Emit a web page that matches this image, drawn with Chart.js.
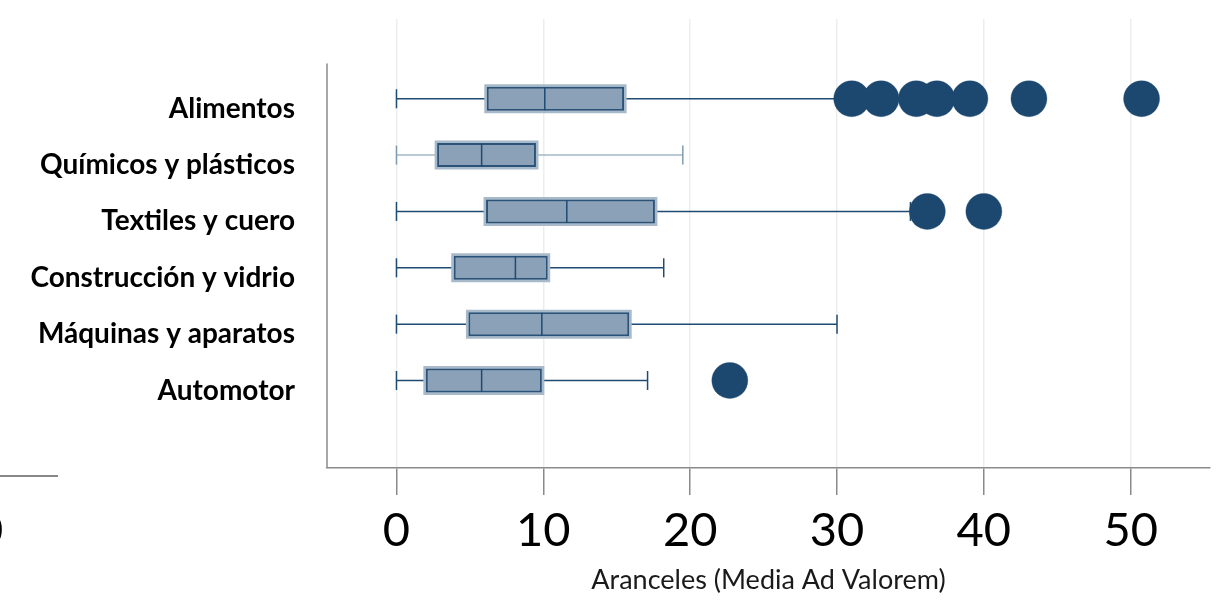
<!DOCTYPE html>
<html lang="es">

<head>
    <meta charset="UTF-8">
    <title>Aranceles por sector</title>
    <script src="https://cdn.jsdelivr.net/npm/chart.js"></script>
    <style>
        body { margin: 0; background: #fff; }
        #wrap { position: relative; width: 1230px; height: 605px; overflow: hidden; }
        #frag-line { position: absolute; left: 0; top: 475px; width: 58px; height: 1.5px; background: #888; }
        #frag-text { position: absolute; left: -24px; top: 500px; font: 47px Lato, sans-serif; color: #000; }
    </style>
</head>

<body>
    <div id="wrap">
        <canvas id="chart" width="1230" height="605"></canvas>
        <div id="frag-line"></div>
        <div id="frag-text">0</div>
    </div>
    <script>
        const categories = ['Alimentos', 'Químicos y plásticos', 'Textiles y cuero', 'Construcción y vidrio', 'Máquinas y aparatos', 'Automotor'];
        const whiskerLow = [0, 0, 0, 0, 0, 0];
        const q1 = [6.15, 2.77, 6.1, 3.9, 4.9, 2.0];
        const median = [10.1, 5.8, 11.6, 8.1, 9.9, 5.8];
        const q3 = [15.5, 9.5, 17.6, 10.3, 15.85, 9.9];
        const whiskerHigh = [30.0, 19.5, 35.0, 18.2, 30.0, 17.1];
        const outliers = [
            [31.0, 33.0, 35.4, 36.8, 39.05, 43.07, 50.74],
            [],
            [36.15, 40.0],
            [],
            [],
            [22.7]
        ];
        const xTicks = [0, 10, 20, 30, 40, 50];

        const dark = '#1f4a72';
        const lightWhisker = '#a3b8c6';

        // points built from the arrays above (y = category position 1..6)
        const whiskerPts = [];
        categories.forEach((c, i) => {
            whiskerPts.push({ x: whiskerLow[i], y: i + 1 }, { x: whiskerHigh[i], y: i + 1 }, { x: null, y: null });
        });
        const boxPts = categories.map((c, i) => ({ y: i + 1, x: [q1[i], q3[i]] }));
        const medianPts = categories.map((c, i) => ({ x: median[i], y: i + 1 }));
        const outlierPts = [];
        outliers.forEach((list, i) => list.forEach(v => outlierPts.push({ x: v, y: i + 1 })));

        const leftAxisLine = {
            id: 'leftAxisLine',
            afterDraw(chart) {
                const { ctx, chartArea, scales } = chart;
                ctx.save();
                ctx.strokeStyle = '#8a8a8a';
                ctx.lineWidth = 1.5;
                ctx.beginPath();
                ctx.moveTo(chartArea.left, scales.y.getPixelForValue(0.375));
                ctx.lineTo(chartArea.left, chartArea.bottom);
                ctx.stroke();
                ctx.restore();
            }
        };

        const ctx = document.getElementById('chart').getContext('2d');
        new Chart(ctx, {
            type: 'bar',
            data: {
                datasets: [
                    {
                        type: 'line',
                        data: whiskerPts,
                        borderWidth: 1.5,
                        segment: { borderColor: c => c.p0.parsed.y === 2 ? lightWhisker : dark },
                        borderColor: dark,
                        pointStyle: 'line',
                        rotation: 90,
                        pointRadius: 9.5,
                        pointBorderWidth: 1.5,
                        pointBorderColor: whiskerPts.map(p => p.y === 2 ? '#7f9bb0' : dark),
                        spanGaps: false,
                        order: 5
                    },
                    {
                        data: boxPts,
                        indexAxis: 'y',
                        grouped: false,
                        barThickness: 24,
                        backgroundColor: '#a8bac9',
                        borderWidth: 0,
                        inflateAmount: 2.5,
                        order: 4
                    },
                    {
                        data: boxPts,
                        indexAxis: 'y',
                        grouped: false,
                        barThickness: 24,
                        backgroundColor: '#8ba1b7',
                        borderColor: '#2b5278',
                        borderWidth: 2,
                        borderSkipped: false,
                        inflateAmount: 0,
                        order: 3
                    },
                    {
                        type: 'scatter',
                        data: medianPts,
                        pointStyle: 'line',
                        rotation: 90,
                        pointRadius: 11.5,
                        pointBorderWidth: 1.5,
                        pointBorderColor: dark,
                        order: 2
                    },
                    {
                        type: 'scatter',
                        data: outlierPts,
                        pointRadius: 18,
                        pointBackgroundColor: '#1c4870',
                        pointBorderColor: 'rgba(28,72,112,0.35)',
                        pointBorderWidth: 1,
                        order: 1
                    }
                ]
            },
            options: {
                indexAxis: 'y',
                responsive: false,
                animation: false,
                events: [],
                layout: { padding: { left: 0, top: 9, right: 20, bottom: 0 } },
                plugins: { legend: { display: false }, tooltip: { enabled: false } },
                scales: {
                    x: {
                        type: 'linear',
                        offset: false,
                        min: -4.73,
                        max: 55.4,
                        afterBuildTicks: s => { s.ticks = xTicks.map(v => ({ value: v })); },
                        afterFit: s => { s.height = 137; s.paddingLeft = 0; s.paddingRight = 0; },
                        grid: { offset: false, color: '#ededed', lineWidth: 1.5, tickColor: '#8a8a8a', tickLength: 27, tickWidth: 1.5 },
                        border: { color: '#8a8a8a', width: 1.5 },
                        ticks: { font: { family: 'Lato', size: 47 }, color: '#000', padding: 8 },
                        title: {
                            display: true,
                            text: 'Aranceles (Media Ad Valorem)',
                            font: { family: 'Lato', size: 27 },
                            color: '#1a1a1a',
                            padding: { top: 0, bottom: 9 }
                        }
                    },
                    y: {
                        type: 'linear',
                        offset: false,
                        reverse: true,
                        min: -0.415,
                        max: 7.553,
                        afterBuildTicks: s => { s.ticks = categories.map((c, i) => ({ value: i + 1 })); },
                        afterFit: s => { s.width = 327; s.paddingTop = 0; s.paddingBottom = 0; },
                        grid: { display: false, drawTicks: false, offset: false },
                        border: { display: false },
                        ticks: {
                            callback: v => categories[v - 1],
                            font: { family: 'Lato', size: 28, weight: 'bold', lineHeight: 0.4 },
                            color: '#000',
                            padding: 32,
                            labelOffset: 10
                        }
                    }
                }
            },
            plugins: [leftAxisLine]
        });
    </script>
</body>

</html>
